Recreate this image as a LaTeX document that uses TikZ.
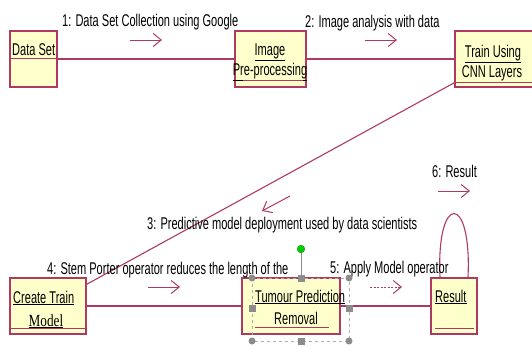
\documentclass[tikz,border=0pt]{standalone}
\usepackage{fontspec}
\setmainfont[FakeStretch=0.65]{Liberation Sans}
\newfontfamily\serifnarrow[FakeStretch=0.78]{Liberation Serif}
\usepackage{xcolor}
\definecolor{umlred}  {HTML}{AE3A62}
\definecolor{umlfill} {HTML}{FFFFCC}
\definecolor{handle}  {HTML}{8C8C8C}
\usetikzlibrary{arrows.meta}

\begin{document}
\begin{tikzpicture}[x=1pt, y=-1pt,
    every node/.style={font=\fontsize{17}{20}\selectfont, inner sep=0pt},
    objbox/.style={draw=umlred, fill=umlfill, line width=1.5pt,
                   minimum height=56pt},
    conn/.style={draw=umlred, line width=1.1pt},
    msg/.style={draw=umlred, line width=1pt,
                -{Straight Barb[length=8pt, width=13pt]}},
    grip/.style={fill=handle, draw=none, minimum size=7pt, inner sep=0pt}]

    \clip (0,0) rectangle (532,346);
    \fill[white] (0,0) rectangle (532,346);

    % --- top row of objects
    \node[objbox, minimum width=47pt] (ds)   at (33.5, 59) {};
    \node[objbox, minimum width=71pt] (imgp) at (270.5, 59) {};
    \node[objbox, minimum width=80pt] (cnn)  at (495, 59) {};

    \draw[umlred, line width=1pt] (ds.west |- 0,58) -- (ds.east |- 0,58);
    \node[anchor=base west] (dsname) at (12, 55) {Data Set};

    \node[anchor=base] (imgname) at (270, 55) {\underline{Image}};
    \node[anchor=base] (imgsub)  at (270, 75) {\underline{Pre-processing}};
    \draw[umlred, line width=1pt] (243, 80) -- (303, 80);

    \node[anchor=base] (cnnname) at (493, 57) {\underline{Train Using}};
    \node[anchor=base] (cnnsub)  at (492, 77) {\underline{CNN Layers}};
    \draw[umlred, line width=1pt] (cnn.west |- 0,82) -- (cnn.east |- 0,82);

    % --- bottom row of objects
    \node[objbox, minimum width=76pt] (ctm) at (48, 306) {};
    \node[objbox, minimum width=98pt] (tpr) at (291, 306) {};
    \node[objbox, minimum width=46pt] (res) at (454, 306) {};

    \node[anchor=base west] (ctmname) at (13, 303) {\underline{Create Train}};
    \node[anchor=base] (ctmsub) at (46, 326) {\serifnarrow\underline{Model}};
    \draw[umlred, line width=1pt] (ctm.west |- 0,328) -- (ctm.east |- 0,328);

    \node[anchor=base west] (tprname) at (255, 302) {\underline{Tumour Prediction}};
    \node[anchor=base] (tprsub) at (296, 324) {Removal};
    \draw[umlred, line width=1pt] (255, 327) -- (329, 327);

    \node[anchor=base west] (resname) at (435, 302) {\underline{Result}};
    \draw[umlred, line width=1pt] (435, 328) -- (474, 328);

    % --- links
    \draw[conn] (ds.east) -- (imgp.west);
    \draw[conn] (imgp.east) -- (cnn.west);
    \draw[conn] ([yshift=5pt]cnn.south west) -- ([yshift=-7pt]ctm.north east);
    \draw[conn] (ctm.east) -- (tpr.west);
    \draw[conn] (tpr.east) -- (res.west);
    \draw[conn] ([xshift=-14pt]res.north) .. controls +(-4pt,85pt) and +(4pt,85pt) .. ([xshift=14pt]res.north);

    % --- messages
    \node[anchor=base west] (m1) at (62, 26)  {1: Data Set Collection using Google};
    \node[anchor=base west] (m2) at (305, 27) {2: Image analysis with data};
    \node[anchor=base west] (m3) at (147, 229) {3: Predictive model deployment used by data scientists};
    \node[anchor=base west] (m4) at (47, 274) {4: Stem Porter operator reduces the length of the};
    \node[anchor=base west] (m5) at (330, 273) {5: Apply Model operator};
    \node[anchor=base west] (m6) at (432, 177) {6: Result};

    \coordinate (a1s) at (130, 40);  \coordinate (a1e) at (162, 40);
    \coordinate (a2s) at (365, 40);  \coordinate (a2e) at (397, 40);
    \coordinate (a3s) at (290, 196); \coordinate (a3e) at (262, 211);
    \coordinate (a4s) at (148, 287); \coordinate (a4e) at (180, 287);
    \coordinate (a5s) at (370, 287); \coordinate (a5e) at (402, 287);
    \coordinate (a6s) at (438, 191); \coordinate (a6e) at (470, 191);
    \draw[msg] (a1s) -- (a1e);
    \draw[msg] (a2s) -- (a2e);
    \draw[msg] (a3s) -- (a3e);
    \draw[msg] (a4s) -- (a4e);
    \draw[msg, dash pattern=on 2pt off 1.5pt] (a5s) -- (a5e);
    \draw[msg] (a6s) -- (a6e);

    % --- selection handles round the label
    \draw[handle!70, dashed, line width=0.6pt] (252, 278) rectangle (349, 341);
    \draw[handle, line width=0.8pt] (301, 249) -- (301, 278);
    \foreach \gx/\gy in {252/278, 349/278, 252/341, 349/341}
        \fill[handle] (\gx, \gy) circle (3.5pt);
    \foreach \gx/\gy in {301/278, 252/308, 349/308, 301/341}
        \node[grip] at (\gx, \gy) {};
    \fill[green!80!black, draw=green!60!black] (301, 249) circle (3.8pt);
\end{tikzpicture}
\end{document}
